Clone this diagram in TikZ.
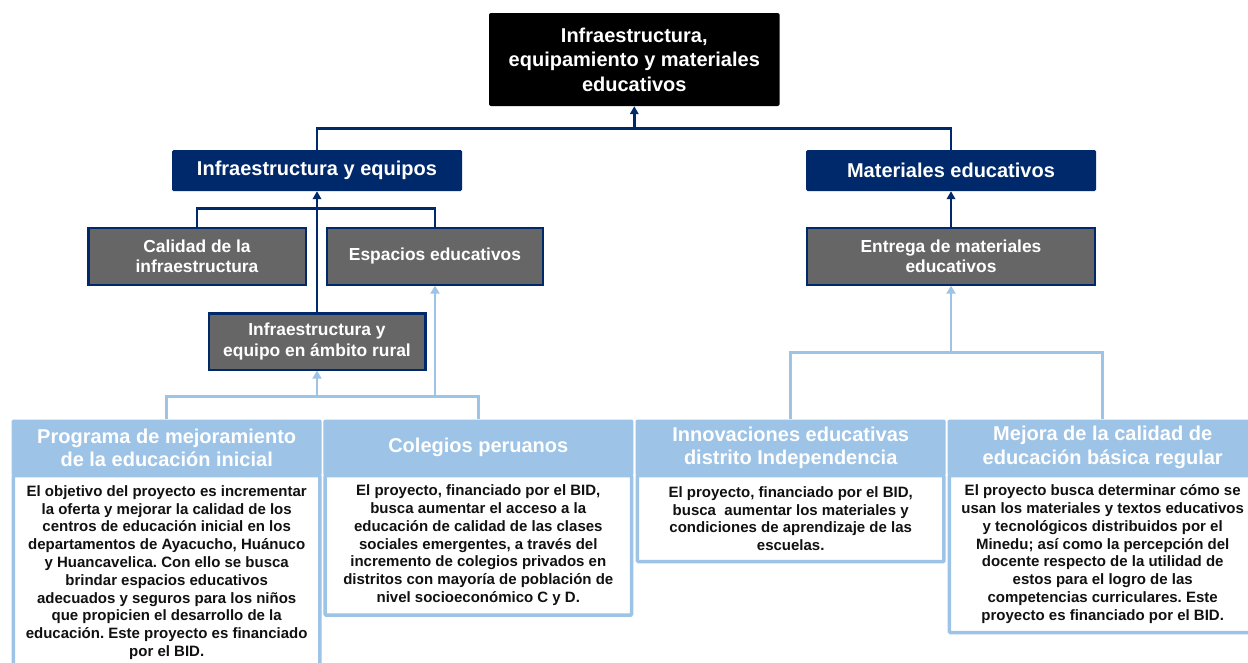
\documentclass[tikz,border=0pt]{standalone}
\usepackage{fontspec}
\setmainfont{Liberation Sans}
\usetikzlibrary{arrows.meta}
\frenchspacing
\definecolor{navyc}{HTML}{00296B}
\definecolor{greyc}{HTML}{666666}
\definecolor{lbc}{HTML}{9DC3E6}
\definecolor{bodytext}{HTML}{111111}
\tikzset{
 topbox/.style={fill=black, text=white, rounded corners=2pt, inner sep=0pt, align=center, font=\bfseries\fontsize{20}{24.5}\selectfont, minimum width=290.6pt, minimum height=93pt},
 navybox/.style={fill=navyc, text=white, rounded corners=1.5pt, inner sep=0pt, align=center, font=\bfseries\fontsize{20}{24}\selectfont, minimum width=290pt, minimum height=41pt},
 greybox/.style={fill=greyc, draw=navyc, line width=2.2pt, text=white, inner sep=0pt, align=center, font=\bfseries\fontsize{17.4}{20.5}\selectfont, minimum height=56.8pt},
 headbox/.style={fill=lbc, text=white, rounded corners=1.5pt, inner sep=0pt, align=center, font=\bfseries\fontsize{20}{23.5}\selectfont, minimum width=310pt, minimum height=56.2pt, anchor=north},
 bodybox/.style={fill=white, draw=lbc, line width=3.5pt, inner sep=0pt, align=center, text=bodytext, font=\bfseries\fontsize{15}{17.8}\selectfont, minimum width=306.5pt, anchor=north, rounded corners=1pt},
 navyline/.style={draw=navyc, line width=2.4pt},
 navyarrow/.style={navyline, -{Triangle[length=8pt,width=8.5pt]}},
 blueline/.style={draw=lbc, line width=2.8pt},
 bluearrow/.style={blueline, -{Triangle[length=8pt,width=9pt]}},
}
\begin{document}
\begin{tikzpicture}[x=1pt,y=-1pt]
\useasboundingbox (0,0) rectangle (1248,662);
\clip (0,0) rectangle (1248,662);
\fill[white] (0,0) rectangle (1248,662);

% top level
\node[topbox] (top) at (634.3,59.5) {Infraestructura,\\equipamiento y materiales\\educativos};
\node[navybox] (L) at (317,170.5) {Infraestructura y equipos};
\node[navybox] (R) at (951,170.5) {Materiales educativos};

% grey boxes
\node[greybox, minimum width=217.2pt] (cal) at (197,256.2) {Calidad de la\\infraestructura};
\node[greybox, minimum width=216.4pt] (esp) at (435,256.2) {Espacios educativos};
\node[greybox, minimum width=216.8pt, minimum height=56.2pt] (rural) at (317,341.5) {Infraestructura y\\equipo en ámbito rural};
\node[greybox, minimum width=287.4pt] (ent) at (951,256.2) {Entrega de materiales\\educativos};

% project boxes
\node[headbox] (h1) at (166.7,419.3) {Programa de mejoramiento\\de la educación inicial};
\node[bodybox, minimum height=194pt] (b1) at (166.7,473.75) {El objetivo del proyecto es incrementar\\la oferta y mejorar la calidad de los\\centros de educación inicial en los\\departamentos de Ayacucho, Huánuco\\y Huancavelica. Con ello se busca\\brindar espacios educativos\\adecuados y seguros para los niños\\que propicien el desarrollo de la\\educación. Este proyecto es financiado\\por el BID.};

\node[headbox] (h2) at (478.3,419.3) {Colegios peruanos};
\node[bodybox, minimum height=139.5pt] (b2) at (478.3,473.75) {El proyecto, financiado por el BID,\\busca aumentar el acceso a la\\educación de calidad de las clases\\sociales emergentes, a través del\\incremento de colegios privados en\\distritos con mayoría de población de\\nivel socioeconómico C y D.};

\node[headbox] (h3) at (790.7,419.3) {Innovaciones educativas\\distrito Independencia};
\node[bodybox, minimum height=86.2pt] (b3) at (790.7,473.75) {El proyecto, financiado por el BID,\\busca\ \ aumentar los materiales y\\condiciones de aprendizaje de las\\escuelas.};

\node[headbox] (h4) at (1102.7,419.3) {Mejora de la calidad de\\educación básica regular};
\node[bodybox, minimum height=157.2pt] (b4) at (1102.7,473.75) {El proyecto busca determinar cómo se\\usan los materiales y textos educativos\\y tecnológicos distribuidos por el\\Minedu; así como la percepción del\\docente respecto de la utilidad de\\estos para el logro de las\\competencias curriculares. Este\\proyecto es financiado por el BID.};

% navy connectors
\coordinate (j0) at (634.3,128.3);
\draw[navyline] (L.north) |- (j0);
\draw[navyline] (R.north) |- (j0);
\draw[navyarrow] (j0) -- (top.south);

\coordinate (j1) at (317,208.3);
\draw[navyline] (cal.north) |- (j1) -| (esp.north);
\draw[navyarrow] (rural.north) -- (L.south);
\draw[navyarrow] (ent.north) -- (R.south);

% light blue connectors
\coordinate (ja) at (317,396.7);
\draw[blueline] (h1.north) |- (ja) -| (h2.north);
\draw[bluearrow] (ja) -- (rural.south);
\coordinate (jb) at (435,396.7);
\draw[bluearrow] (jb) -- (esp.south);

\coordinate (jc) at (951,352.3);
\draw[blueline] (h3.north) |- (jc) -| (h4.north);
\draw[bluearrow] (jc) -- (ent.south);
\end{tikzpicture}
\end{document}
